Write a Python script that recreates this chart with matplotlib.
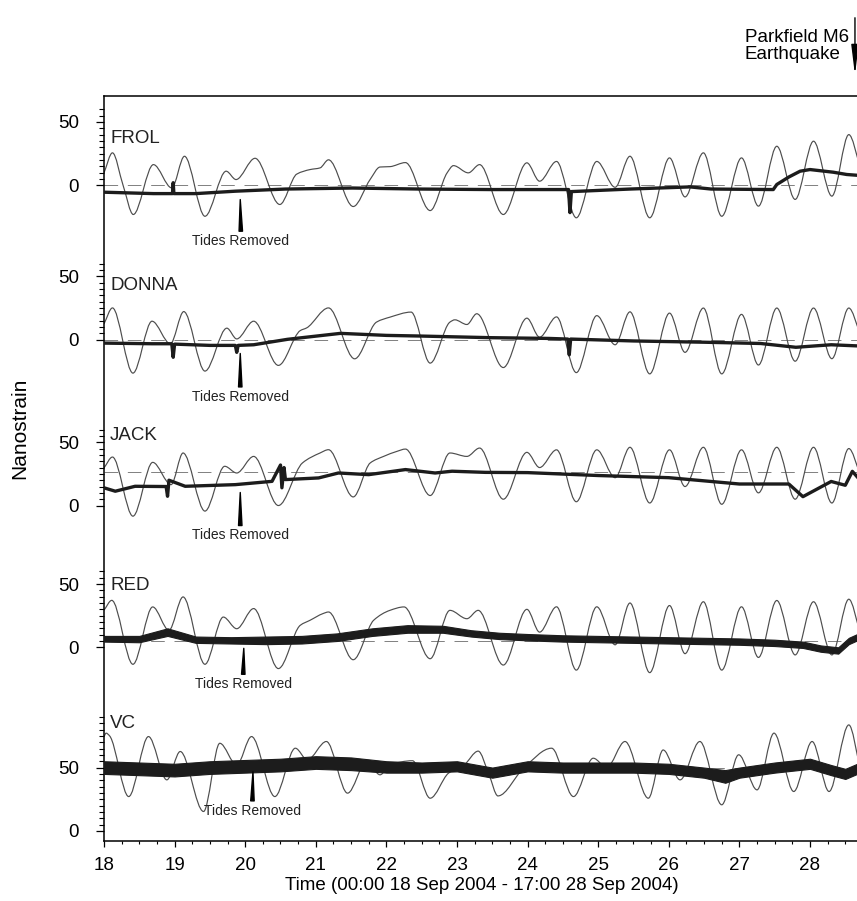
import matplotlib.pyplot as plt
import matplotlib.ticker as mticker
from matplotlib.path import Path
from matplotlib.patches import PathPatch

plt.rcParams['font.family'] = ['Liberation Sans', 'DejaVu Sans']

# strain records, day of September 2004 vs nanostrain
# raw records (tides included): turning points of each trace
frol_t = [18.00, 18.12, 18.27, 18.415, 18.70, 18.96, 19.14, 19.43, 19.73, 19.87, 20.14, 20.49, 20.73, 20.92,
          21.06, 21.18, 21.53, 21.77, 21.91, 22.05, 22.27, 22.62, 22.86, 22.95, 23.16, 23.32, 23.656, 23.99,
          24.17, 24.41, 24.69, 24.98, 25.24, 25.45, 25.73, 26.01, 26.23, 26.49, 26.75, 27.03, 27.27, 27.53,
          27.79, 28.05, 28.31, 28.55, 28.71]
frol_raw = [9.8, 25.6, 0.0, -23.1, 16.3, -2.1, 22.9, -24.5, 11.1, 4.5, 21.3, -15.2, 8.8, 12.4,
            13.7, 20.1, -16.8, 4.6, 14.4, 14.7, 17.9, -20.0, 9.8, 15.5, 9.8, 16.3, -23.1, 17.7,
            3.2, 18.8, -25.7, 18.8, -1.6, 22.9, -25.7, 21.6, -9.2, 25.6, -24.5, 21.6, -16.5, 30.8,
            -11.2, 34.8, -8.6, 40.0, 15.0]

donna_t = [18.00, 18.12, 18.41, 18.68, 18.94, 19.13, 19.43, 19.74, 19.88, 20.12, 20.47, 20.78, 20.87, 21.18,
           21.55, 21.86, 22.05, 22.35, 22.62, 22.90, 22.97, 23.14, 23.28, 23.656, 23.99, 24.17, 24.41, 24.69,
           24.98, 25.24, 25.45, 25.73, 26.01, 26.23, 26.49, 26.75, 27.03, 27.27, 27.53, 27.79, 28.05, 28.31,
           28.55, 28.71]
donna_raw = [12.5, 25.1, -26.4, 14.6, -3.2, 22.2, -24.8, 9.1, 0.6, 14.6, -20.3, 7.2, 9.3, 25.1,
             -15.1, 13.9, 17.8, 21.8, -18.5, 13.9, 15.7, 12.0, 20.5, -22, 17, 2, 18, -26,
             19, -4, 22, -27, 21, -10, 25, -27, 20, -20, 25, -17, 25, -15,
             25, 5]

jack_t = [18.00, 18.12, 18.41, 18.69, 18.95, 19.12, 19.43, 19.71, 19.88, 20.12, 20.47, 20.81, 21.06, 21.18,
          21.53, 21.77, 21.96, 22.15, 22.27, 22.62, 22.90, 23.14, 23.32, 23.656, 23.99, 24.17, 24.41, 24.69,
          24.98, 25.24, 25.45, 25.73, 26.01, 26.23, 26.49, 26.75, 27.03, 27.27, 27.53, 27.79, 28.05, 28.31,
          28.55, 28.71]
jack_raw = [29.7, 38.3, -8.4, 34.1, 16.5, 41.5, -4.4, 31.0, 25.7, 38.8, 0.0, 33.6, 41.5, 44.1,
            6.8, 33.6, 38.8, 42.8, 44.6, 7.9, 41.5, 38.8, 45.4, 5, 42, 30, 44, 3,
            44, 22, 46, 2, 44, 15, 46, 1, 44, 10, 46, 5, 46, 2,
            45, 25]

red_t = [18.00, 18.11, 18.41, 18.69, 18.92, 19.12, 19.43, 19.69, 19.88, 20.12, 20.47, 20.78, 20.92, 21.10,
         21.18, 21.53, 21.82, 22.05, 22.25, 22.62, 22.90, 23.14, 23.30, 23.656, 23.99, 24.17, 24.41, 24.69,
         24.98, 25.24, 25.45, 25.73, 26.01, 26.23, 26.49, 26.75, 27.03, 27.27, 27.53, 27.79, 28.05, 28.31,
         28.55, 28.71]
red_raw = [29.3, 37.1, -13.4, 31.9, 13.5, 39.8, -13.4, 23.9, 14.7, 30.6, -16.8, 17.4, 21.4, 26.6,
           27.9, -9.8, 21.4, 29.2, 31.9, -9.0, 29.2, 22.6, 29.2, -14, 30, 12, 32, -18,
           32, 2, 35, -20, 33, -5, 36, -18, 32, -8, 37, -6, 36, -6,
           38, 12]

vc_t = [18.00, 18.03, 18.08, 18.35, 18.63, 18.89, 19.08, 19.41, 19.64, 19.88, 20.09, 20.42, 20.71, 20.88,
        21.15, 21.45, 21.72, 21.91, 22.05, 22.37, 22.62, 22.88, 23.10, 23.30, 23.45, 23.58, 23.95, 24.34,
        24.65, 24.93, 25.12, 25.38, 25.71, 25.92, 26.16, 26.44, 26.75, 26.99, 27.25, 27.49, 27.77, 28.03,
        28.27, 28.55, 28.71]
vc_raw = [74.5, 77.2, 75.0, 27.1, 74.5, 40.3, 62.7, 15.3, 69.2, 52.0, 74.5, 27.1, 65.3, 56.1,
          70.6, 29.8, 54.7, 44.3, 52.0, 55.4, 25.8, 45.6, 52.0, 63.0, 45.0, 27.6, 50.0, 65.3,
          27.1, 57.4, 50.0, 70.6, 25.8, 63.9, 40.3, 70.6, 20.6, 60.1, 32.4, 77.2, 31.1, 70.6,
          31.1, 83.7, 50.0]

# tides removed
frol_res_t = [18.0, 18.7, 18.97, 18.98, 18.99, 19.3, 19.86, 20.57, 21.52, 22.47, 23.47, 24.58, 24.60, 24.62,
              24.75, 25.45, 26.3, 26.6, 27.48, 27.53, 27.7, 27.86, 28.0, 28.33, 28.52, 28.71]
frol_res = [-5.5, -6.6, -6.6, 2.0, -6.6, -6.6, -4.7, -3.0, -2.2, -3.0, -3.4, -3.4, -21.6, -5.0,
            -4.7, -3.0, -1.3, -3.0, -3.4, 0.6, 6.5, 11.1, 12.4, 10.3, 8.5, 7.7]

donna_res_t = [18.0, 18.68, 18.96, 18.98, 19.0, 19.5, 19.86, 19.88, 19.9, 20.12, 20.6, 21.35, 22.0, 22.47,
               23.47, 24.3, 24.57, 24.59, 24.61, 25.5, 26.5, 27.3, 27.8, 28.3, 28.71]
donna_res = [-2.7, -3.2, -3.2, -13.9, -3.5, -4.5, -4.5, -10.0, -4.5, -4.0, 0.3, 5.0, 3.4, 2.9,
             1.6, 1.0, 0.5, -12.0, 0.5, -1.0, -2.0, -3.0, -6.0, -4.0, -5.0]

jack_res_t = [18.0, 18.16, 18.44, 18.88, 18.90, 18.92, 19.15, 19.86, 20.38, 20.50, 20.52, 20.55, 20.57, 21.04,
              21.32, 21.75, 22.27, 22.69, 22.93, 23.4, 24.0, 25.0, 26.0, 27.0, 27.7, 27.9, 28.3, 28.5,
              28.6, 28.71]
jack_res = [14.0, 11.3, 15.2, 15.0, 7.3, 20.0, 15.2, 16.5, 19.1, 32.0, 14.0, 30.0, 20.5, 21.8,
            25.7, 24.4, 28.4, 25.7, 27.1, 26.2, 26.0, 23.7, 22.0, 17.0, 17.0, 7.0, 19.0, 16.0,
            27.0, 20.0]

# noisy records: lower / upper edge of the trace
red_res_t = [18.0, 18.5, 18.9, 19.3, 19.8, 20.3, 20.8, 21.3, 21.8, 22.3, 22.8, 23.2, 23.6, 24.0,
             24.5, 25.0, 25.5, 26.0, 26.5, 27.0, 27.5, 27.9, 28.15, 28.4, 28.55, 28.71]
red_lo = [4.5, 4.0, 9.0, 3.5, 3.0, 2.5, 3.0, 5.0, 9.0, 11.5, 11.5, 8.5, 6.5, 5.5,
          4.5, 4.0, 3.5, 3.0, 2.5, 2.0, 1.0, -0.5, -3.5, -5.0, 2.5, 6.5]
red_hi = [9.0, 9.0, 15.0, 8.5, 8.0, 8.5, 9.0, 11.0, 15.0, 17.5, 17.0, 13.5, 11.5, 10.5,
          9.5, 9.0, 8.5, 8.0, 7.5, 7.0, 6.0, 4.5, 1.5, 0.0, 7.5, 11.5]

vc_res_t = [18.0, 18.5, 19.0, 19.5, 20.0, 20.5, 21.0, 21.5, 22.0, 22.5, 23.0, 23.5, 24.0, 24.5,
            25.0, 25.5, 26.0, 26.5, 26.8, 27.0, 27.5, 28.0, 28.3, 28.5, 28.71]
vc_lo = [45, 44, 43, 45, 46, 47, 49, 48, 46, 46, 47, 42, 47, 46,
         46, 46, 45, 42, 38, 42, 46, 49, 44, 41, 46]
vc_hi = [55, 54, 53, 55, 56, 57, 59, 58, 55, 54, 55, 50, 55, 54,
         54, 54, 53, 50, 48, 50, 54, 57, 52, 49, 54]

names = ['FROL', 'DONNA', 'JACK', 'RED', 'VC']
ref_level = [0, 0, 26.5, 4.7, 50]   # dashed reference for each record

# vertical offset of each record on the common axis
offset = {'FROL': 510, 'DONNA': 388, 'JACK': 257, 'RED': 145, 'VC': 0}

raw = {'FROL': (frol_t, frol_raw), 'DONNA': (donna_t, donna_raw), 'JACK': (jack_t, jack_raw),
       'RED': (red_t, red_raw), 'VC': (vc_t, vc_raw)}
res = {'FROL': (frol_res_t, frol_res), 'DONNA': (donna_res_t, donna_res), 'JACK': (jack_res_t, jack_res)}
band = {'RED': (red_res_t, red_lo, red_hi), 'VC': (vc_res_t, vc_lo, vc_hi)}


def smooth_trace(t, v, off):
    # cubic segments through the turning points, flat at peaks and troughs
    n = len(t)
    d = [(v[i+1] - v[i]) / (t[i+1] - t[i]) for i in range(n - 1)]
    m = [d[0]] + [0.0]*(n - 2) + [d[-1]]
    for i in range(1, n - 1):
        if d[i-1]*d[i] > 0:
            h0, h1 = t[i] - t[i-1], t[i+1] - t[i]
            w1, w2 = 2*h1 + h0, h1 + 2*h0
            m[i] = (w1 + w2) / (w1/d[i-1] + w2/d[i])
    verts = [(t[0], v[0] + off)]
    codes = [Path.MOVETO]
    for i in range(n - 1):
        h = t[i+1] - t[i]
        verts += [(t[i] + h/3, v[i] + off + m[i]*h/3),
                  (t[i+1] - h/3, v[i+1] + off - m[i+1]*h/3),
                  (t[i+1], v[i+1] + off)]
        codes += [Path.CURVE4]*3
    return Path(verts, codes)


fig = plt.figure(figsize=(8.57, 9.01), dpi=100)
ax = fig.add_axes([104/857, 60/901, 756/857, 745/901])

thin = '#4d4d4d'
dark = '#1c1c1c'
x0, x1 = 18, 28 + 17/24

for name, lev in zip(names, ref_level):
    off = offset[name]
    ax.plot([x0, x1], [off + lev]*2, color='#808080', lw=0.7, ls=(0, (14, 10)), zorder=1)
    t, v = raw[name]
    ax.add_patch(PathPatch(smooth_trace(t, v, off), fc='none', ec=thin, lw=0.85, zorder=2))
    if name in res:
        t, v = res[name]
        ax.plot(t, [off + a for a in v], color=dark, lw=2.4, zorder=3, solid_joinstyle='round')
    else:
        t, lo, hi = band[name]
        ax.fill_between(t, [off + a for a in lo], [off + a for a in hi], color=dark, lw=0.8, zorder=3)

# station names
label_y = {'FROL': 33.7, 'DONNA': 38.9, 'JACK': 52, 'RED': 45, 'VC': 81.4}
for name in names:
    ax.text(18.085, offset[name] + label_y[name], name, fontsize=13.5, va='baseline', color='#222222')

# "Tides Removed" pointers
pointer = {'FROL': (19.93, -11.3, 19.94, -38.5), 'DONNA': (19.93, -10.9, 19.93, -39.5),
           'JACK': (19.93, 10.3, 19.93, -18.0), 'RED': (19.98, -0.8, 19.97, -23.5),
           'VC': (20.11, 46.6, 20.10, 21.5)}
for name in names:
    px, py, tx, ty = pointer[name]
    off = offset[name]
    ax.annotate('Tides Removed', xy=(px, off + py), xytext=(tx, off + ty), ha='center', va='top',
                fontsize=10, color='#222222',
                arrowprops=dict(arrowstyle='wedge,tail_width=0.25,shrink_factor=0.5', fc='k', ec='k',
                                shrinkA=0, shrinkB=0))

ax.set_xlim(x0, x1)
ax.set_ylim(-8, 580.5)

yt_major, yt_labels, yt_minor = [], [], []
for name in names:
    off = offset[name]
    yt_major += [off, off + 50]
    yt_labels += ['0', '50']
    top = 90 if name == 'VC' else 60
    yt_minor += [off + k for k in range(0, top + 1, 5)]
ax.yaxis.set_major_locator(mticker.FixedLocator(yt_major))
ax.yaxis.set_major_formatter(mticker.FixedFormatter(yt_labels))
ax.yaxis.set_minor_locator(mticker.FixedLocator(yt_minor))
ax.xaxis.set_major_locator(mticker.MultipleLocator(1))
ax.xaxis.set_minor_locator(mticker.MultipleLocator(0.25))

ax.tick_params(axis='y', which='major', direction='out', length=6, width=0.9, labelsize=13.5, pad=12)
ax.tick_params(axis='y', which='minor', direction='out', length=3.5, width=0.8)
ax.tick_params(axis='x', which='major', direction='out', length=4.5, width=0.9, labelsize=13.5, pad=7)
ax.tick_params(axis='x', which='minor', direction='out', length=2.5, width=0.8)
ax.spines['right'].set_visible(False)
for s in ['left', 'top', 'bottom']:
    ax.spines[s].set_linewidth(1.1)

ax.set_xlabel('Time (00:00 18 Sep 2004 - 17:00 28 Sep 2004)', fontsize=13.5, labelpad=2)
fig.text(20/857, 1 - 428/901, 'Nanostrain', rotation=90, ha='center', va='center', fontsize=15)

# earthquake marker above the records
fig.text(745/857, 1 - 41.7/901, 'Parkfield M6', fontsize=13.5, va='baseline')
fig.text(745/857, 1 - 59.3/901, 'Earthquake', fontsize=13.5, va='baseline')
ax.annotate('', xy=(28.637, 1.028), xycoords=('data', 'axes fraction'),
            xytext=(28.637, 1.105), textcoords=('data', 'axes fraction'),
            arrowprops=dict(arrowstyle='-|>,head_length=1.8,head_width=0.22', fc='k', ec='k',
                            lw=1.0, shrinkA=0, shrinkB=0), annotation_clip=False)

fig.savefig('out.png', dpi=100)
